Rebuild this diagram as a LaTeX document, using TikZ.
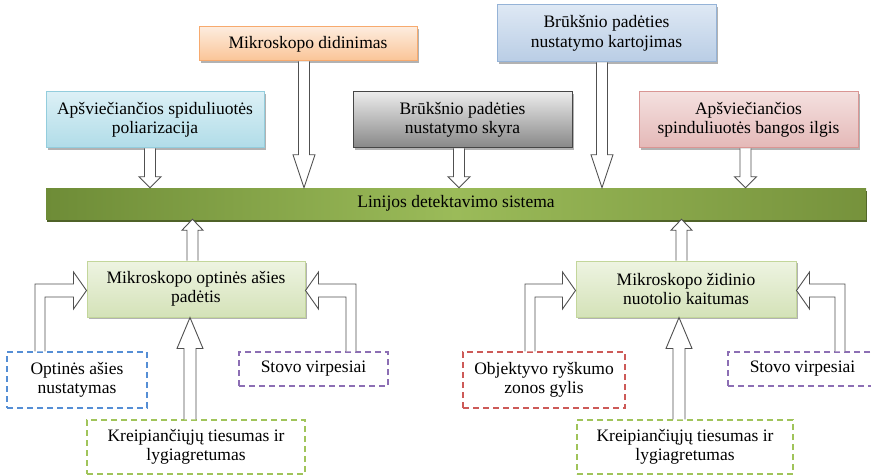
\documentclass[tikz,border=0pt]{standalone}
\usepackage{fontspec}
\setmainfont{Liberation Serif}
\usetikzlibrary{shadows,calc}
\definecolor{arrgray}{RGB}{80,80,80}
\definecolor{orT}{RGB}{253,236,222}\definecolor{orB}{RGB}{250,196,150}\definecolor{orD}{RGB}{247,170,110}
\definecolor{cyT}{RGB}{220,240,246}\definecolor{cyB}{RGB}{176,220,232}\definecolor{cyD}{RGB}{147,205,221}
\definecolor{gyT}{RGB}{235,235,235}\definecolor{gyB}{RGB}{135,135,135}\definecolor{gyD}{RGB}{70,70,70}
\definecolor{blT}{RGB}{222,232,244}\definecolor{blB}{RGB}{185,205,229}\definecolor{blD}{RGB}{149,179,215}
\definecolor{pkT}{RGB}{244,224,223}\definecolor{pkB}{RGB}{228,184,183}\definecolor{pkD}{RGB}{217,150,148}
\definecolor{grT}{RGB}{238,244,226}\definecolor{grB}{RGB}{212,226,184}\definecolor{grD}{RGB}{195,214,155}
\definecolor{barL}{RGB}{110,140,55}\definecolor{barM}{RGB}{155,187,89}\definecolor{barR}{RGB}{118,146,60}
\definecolor{barS}{RGB}{79,98,40}
\definecolor{dBlue}{RGB}{85,142,213}\definecolor{dPur}{RGB}{140,110,180}
\definecolor{dRed}{RGB}{205,90,88}\definecolor{dGrn}{RGB}{160,196,90}
\tikzset{
  base/.style={rectangle, inner sep=0pt, align=center, text=black,
    font=\fontsize{17.5}{19.5}\selectfont},
  sbox/.style={base, draw=#1, line width=1pt,
    drop shadow={shadow xshift=2pt, shadow yshift=-2pt, fill=black, opacity=.3}},
  dbox/.style={base, draw=#1, fill=white, line width=1.3pt, dash pattern=on 6pt off 4pt},
  blk/.style={draw=arrgray, fill=white, line width=0.9pt, line join=miter},
}
% down block arrow: x centre, source node, target node, head length
\newcommand{\dblk}[4]{%
  \path[blk] let \p1=(#2.south), \p2=(#3.north) in
    (#1-5.5,\y1) -- (#1-5.5,\y2+#4) -- (#1-11,\y2+#4) -- (#1,\y2)
    -- (#1+11,\y2+#4) -- (#1+5.5,\y2+#4) -- (#1+5.5,\y1);}
% up block arrow: x centre, source, target, shaft half, head half, head length
\newcommand{\ublk}[6]{%
  \path[blk] let \p1=(#2.north), \p2=(#3.south) in
    (#1-#4,\y1) -- (#1-#4,\y2-#6) -- (#1-#5,\y2-#6) -- (#1,\y2)
    -- (#1+#5,\y2-#6) -- (#1+#4,\y2-#6) -- (#1+#4,\y1);}
% bent arrow from a box below-left into the west side of target
\newcommand{\lblk}[3]{%
  \path[blk] let \p1=(#2.north), \p2=(#3.west), \n1={\y2-1.5} in
    (#1-5,\y1) -- (#1-5,\n1+6.5) -- (\x2-13,\n1+6.5) -- (\x2-13,\n1+18.5)
    -- (\x2,\n1) -- (\x2-13,\n1-18.5) -- (\x2-13,\n1-6.5) -- (#1+5,\n1-6.5) -- (#1+5,\y1);}
% bent arrow from a box below-right into the east side of target
\newcommand{\rblk}[3]{%
  \path[blk] let \p1=(#2.north), \p2=(#3.east), \n1={\y2-1.5} in
    (#1+5,\y1) -- (#1+5,\n1+6.5) -- (\x2+13,\n1+6.5) -- (\x2+13,\n1+18.5)
    -- (\x2,\n1) -- (\x2+13,\n1-18.5) -- (\x2+13,\n1-6.5) -- (#1-5,\n1-6.5) -- (#1-5,\y1);}
\begin{document}
\begin{tikzpicture}[x=1pt,y=1pt]
\useasboundingbox (0,0) rectangle (871,475);
\fill[white] (0,0) rectangle (871,475);
% top boxes
\node[sbox=orD, top color=orT, bottom color=orB, minimum width=218, minimum height=34] (didin) at (308,431) {Mikroskopo didinimas};
\node[sbox=blD, top color=blT, bottom color=blB, minimum width=219, minimum height=57] (kart) at (606.5,441.5) {Brūkšnio padėties\\nustatymo kartojimas};
\node[sbox=cyD, top color=cyT, bottom color=cyB, minimum width=218, minimum height=56] (pol) at (155,355) {Apšviečiančios spiduliuotės\\poliarizacija};
\node[sbox=gyD, top color=gyT, bottom color=gyB, minimum width=219, minimum height=56] (skyra) at (462.5,355) {Brūkšnio padėties\\nustatymo skyra};
\node[sbox=pkD, top color=pkT, bottom color=pkB, minimum width=219, minimum height=56] (bang) at (748.5,355) {Apšviečiančios\\spinduliuotės bangos ilgis};
% main bar
\node[base, left color=barL, right color=barR, middle color=barM, minimum width=820, minimum height=31,
  drop shadow={shadow xshift=1pt, shadow yshift=-3pt, fill=barS, opacity=1}] (bar) at (456,271.5) {Linijos detektavimo sistema};
% middle boxes
\node[sbox=grD, top color=grT, bottom color=grB, minimum width=218, minimum height=56] (opt) at (196,186) {Mikroskopo optinės ašies\\padėtis};
\node[sbox=grD, top color=grT, bottom color=grB, minimum width=220, minimum height=56] (zid) at (686,186) {Mikroskopo židinio\\nuotolio kaitumas};
% dashed boxes
\node[dbox=dBlue, minimum width=140, minimum height=56] (optn) at (77,95) {Optinės ašies\\nustatymas};
\node[dbox=dPur, minimum width=149, minimum height=34] (stov1) at (313.5,106) {Stovo virpesiai};
\node[dbox=dGrn, minimum width=218, minimum height=54] (kre1) at (196,28) {Kreipiančiųjų tiesumas ir\\lygiagretumas};
\node[dbox=dRed, minimum width=162, minimum height=56] (obj) at (544,95) {Objektyvo ryškumo\\zonos gylis};
\node[dbox=dPur, minimum width=149, minimum height=34] (stov2) at (802.5,106) {Stovo virpesiai};
\node[dbox=dGrn, minimum width=216, minimum height=54] (kre2) at (685,28) {Kreipiančiųjų tiesumas ir\\lygiagretumas};
% arrows into the bar
\dblk{150}{pol}{bar}{11}
\dblk{304}{didin}{bar}{33}
\dblk{459}{skyra}{bar}{11}
\dblk{602}{kart}{bar}{33}
\dblk{745.5}{bang}{bar}{11}
\ublk{192.5}{opt}{bar}{5.5}{10.5}{11}
\ublk{681.5}{zid}{bar}{5.5}{10.5}{11}
% arrows into the middle boxes
\ublk{190}{kre1}{opt}{6}{13}{31}
\ublk{679}{kre2}{zid}{6}{13}{31}
\lblk{40}{optn}{opt}
\rblk{351}{stov1}{opt}
\lblk{530}{obj}{zid}
\rblk{840}{stov2}{zid}
\end{tikzpicture}
\end{document}
